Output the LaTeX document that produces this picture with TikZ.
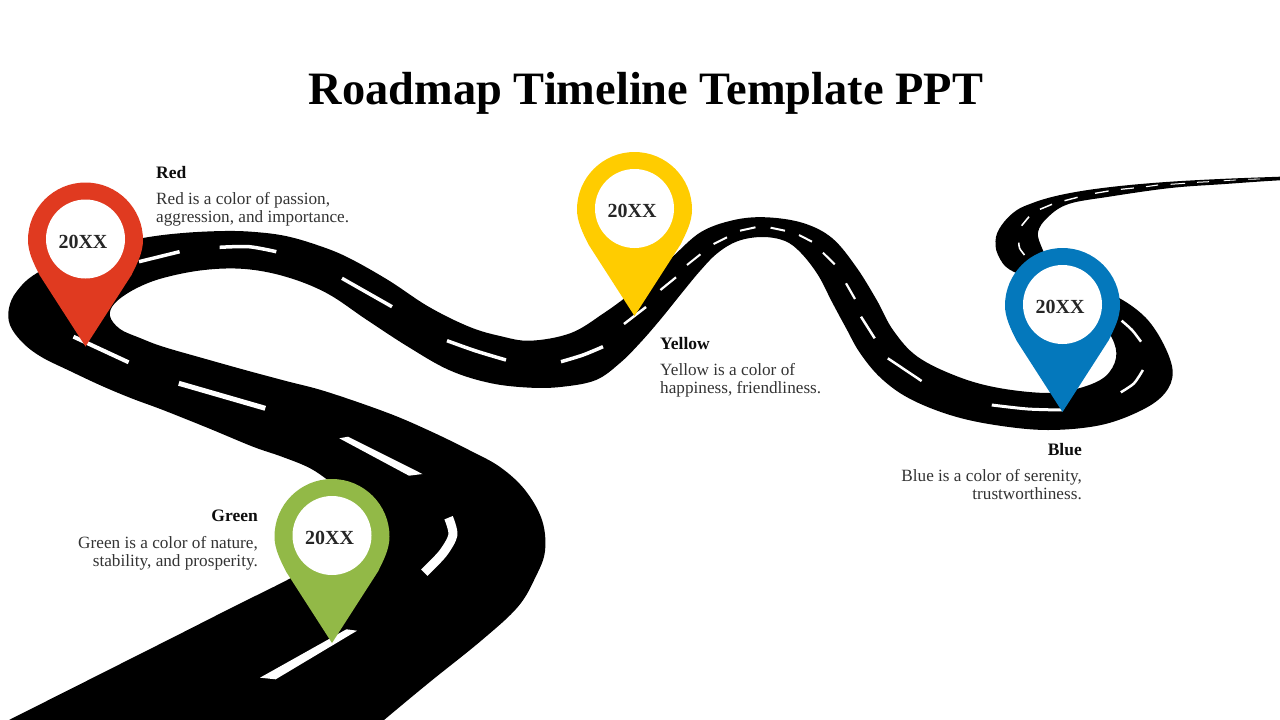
\documentclass[tikz,border=0pt]{standalone}
\usepackage{fontspec}
\setmainfont{Liberation Serif}
\definecolor{pinred}{HTML}{E03A20}
\definecolor{pinyellow}{HTML}{FFCC00}
\definecolor{pinblue}{HTML}{0478BC}
\definecolor{pingreen}{HTML}{92B947}
\newcommand{\bodyf}{\fontsize{17.2}{18}\selectfont}
\tikzset{
  mappin/.pic={
    \fill (0,106.5) -- (-46,35) .. controls (-52,23) and (-57.5,12) .. (-57.5,0)
      arc (180:360:57.5) .. controls (57.5,12) and (52,23) .. (46,35) -- cycle;
    \fill[white] (0,-1) circle (39.5);
  },
  pintext/.style={font=\fontsize{20}{22}\selectfont\bfseries, text=black!85, inner sep=0},
  headlabel/.style={font=\fontsize{17.5}{18}\selectfont\bfseries, text=black!95, inner sep=0},
  bodyleft/.style={font=\bodyf, text=black!80, inner sep=0, anchor=north west, align=left},
  bodyright/.style={font=\bodyf, text=black!80, inner sep=0, anchor=north east, align=right},
  lane/.style={draw=white, line cap=butt, line join=round, line width=#1},
  lane/.default=3
}
\begin{document}
\begin{tikzpicture}[x=1pt,y=-1pt]
\useasboundingbox (0,0) rectangle (1280,720);
\clip (0,0) rectangle (1280,720);
% road
\fill[black] plot[smooth cycle, tension=0.6] coordinates {
 (1330,175) (1280,176.7) (1220,179) (1170.6,181.7) (1129.8,185) (1095,189) (1068.6,193.3) (1048,198) (1031.8,203.3) (1017,210) (1004,222) (996,237) (998,255) (1013.5,271.7) (1060,285) (1095,290) (1119.6,298.3) (1146,318) (1164,345) (1172.7,372) (1165,393) (1142,410) (1101,425) (1048,430) (995,425) (950,415) (909,398.3) (880.8,378) (860,353) (846,328) (832,302) (818,275) (801,253) (785,241) (762.4,237) (738,241) (717.6,253) (700,271) (681,294) (660,320) (640,343) (620,363) (596,380) (563,386.7) (530.6,387.7) (490,383) (449,370) (408,346.7) (367,320) (326.5,293) (285.7,276.7) (245,269) (204,270) (163,278) (135,289) (115,303) (110,316) (120,329) (140,338) (163,346.7) (204,358.5) (245,370) (286,381) (326.5,391.7) (388,413) (430,431) (469,450) (500,467) (525,490) (542,520) (545,551) (535.7,576.7) (518,606.7) (482,640) (428.6,683) (384,720) (340,757) (250,770) (100,775) (-60,755) (9,720) (71,688.8) (125,661.6) (178.6,634.6) (235,606) (291,578) (330,555) (350,525) (345,495) (325,478) (307,466.7) (280,456) (253,446.7) (208,428) (163,410) (132,398.5) (102,386) (70,371) (41,356.7) (22,342) (10,325) (9,308) (17,291) (37,273) (85,250) (143,238) (183,233) (224.5,231) (255,232) (285.7,236) (317,245) (347,257) (388,280) (428.6,306.7) (469,326.7) (500,336) (530.6,340.7) (571,333) (604,313) (630,294) (650,277) (672.6,256.7) (701,232) (734,220) (766.5,217.3) (803,223) (832,238) (856,266.7) (876.7,300) (893,330) (917.5,356.7) (958,376.7) (999,388) (1048,393) (1080,388) (1105,376.7) (1116,358) (1112,338) (1095,315) (1070,285) (1050,262) (1042,248) (1038,232) (1048,217) (1068.6,204) (1109,196.7) (1170.6,188) (1225,184) (1280,180.3) (1330,178.5)
};
% lane markings
\draw[lane=3.5] (139,261.7) -- (179.6,251.7);
\draw[lane=3.5] plot[smooth] coordinates {(219.6,247.3) (249,246.7) (276.3,251.7)};
\draw[lane=3.5] (342,278.3) -- (392,306.7);
\draw[lane=3.5] plot[smooth] coordinates {(447,340.7) (476,351) (506,360)};
\draw[lane=3.5] plot[smooth] coordinates {(561,361.7) (583,355) (603,346.7)};
\draw[lane=2.5] (624,324) -- (646,307);
\draw[lane=2.2] (660.4,290) -- (676,277.3);
\draw[lane=2] (687,265) -- (700.4,254.3);
\draw[lane=2] (713.5,244) -- (727,237.3);
\draw[lane=2] (740,230.7) -- (755.5,227.3);
\draw[lane=2] (770.6,227.7) -- (785,230.7);
\draw[lane=2] (799,235) -- (812,241.7);
\draw[lane=2] (823,252.7) -- (834.7,264.3);
\draw[lane=2.2] (846,283.3) -- (855,299);
\draw[lane=2.5] (861,316.7) -- (874.7,338.3);
\draw[lane=2.5] (887.8,358.3) -- (921.6,381);
\draw[lane=3] plot[smooth] coordinates {(991.8,405) (1027.8,409) (1062.4,410)};
\draw[lane=2.5] plot[smooth] coordinates {(1120.8,392.3) (1134,383.3) (1142.9,370)};
\draw[lane=2.5] plot[smooth] coordinates {(1121.6,320.7) (1132,330) (1141,341.7)};
\draw[lane=1.6] plot[smooth] coordinates {(1018.8,242.7) (1019.6,248.3) (1024.5,255)};
\draw[lane=1.6] (1021.6,225.7) -- (1029,216.7);
\draw[lane=1.5] (1040,209.3) -- (1052,204.3);
\draw[lane=1.4] (1064.5,200.7) -- (1077.6,197.3);
\draw[lane=1.3] (1095,193.3) -- (1108.6,191);
\draw[lane=1.2] (1120.8,189.3) -- (1133.9,188);
\draw[lane=1.1] (1146,186.7) -- (1158,185);
\draw[lane=1] (1170.6,184.3) -- (1185,183.3);
\draw[lane=1] (1197,182.3) -- (1209,181.7);
\draw[lane=.8] (1223.7,180.7) -- (1236,180);
\draw[lane=.8] (1248,179.3) -- (1260,179);
\draw[lane=4] (73.5,336.7) -- (128.6,362.3);
\draw[lane=5] (178.8,383.3) -- (265.3,408.3);
\fill[white] (339.3,438.3) -- (348,436.7) -- (422.5,474) -- (409,475.7) -- cycle;
\draw[lane=9] plot[smooth] coordinates {(448.6,517.7) (452.9,535) (442.9,553.3) (424.3,572.7)};
\fill[white] (346.4,629.3) -- (357,630.7) -- (275.7,679.3) -- (260,677.7) -- cycle;
% pins
\pic[fill=pinred] at (85.5,240) {mappin};
\pic[fill=pinyellow] at (634.5,209.5) {mappin};
\pic[fill=pinblue] at (1062.5,305.5) {mappin};
\pic[fill=pingreen] at (332,536.5) {mappin};
\node[pintext] (tred) at (83,241.5) {20XX};
\node[pintext] (tyellow) at (632,210.5) {20XX};
\node[pintext] (tblue) at (1060,306.5) {20XX};
\node[pintext] (tgreen) at (329.5,537.5) {20XX};
% title
\node[font=\fontsize{46.4}{50}\selectfont\bfseries, text=black, inner sep=0, anchor=base] (title) at (646,104) {Roadmap Timeline Template PPT};
% labels
\node[headlabel, anchor=base west] (lred) at (156,178.3) {Red};
\node[bodyleft] (bred) at (156,191.7) {\strut Red is a color of passion,\\aggression, and importance.};
\node[headlabel, anchor=base west] (lyellow) at (660,349) {Yellow};
\node[bodyleft] (byellow) at (660,362.4) {\strut Yellow is a color of\\happiness, friendliness.};
\node[headlabel, anchor=base east] (lblue) at (1082,455) {Blue};
\node[bodyright] (bblue) at (1082,468.4) {\strut Blue is a color of serenity,\\trustworthiness.};
\node[headlabel, anchor=base east] (lgreen) at (258,521.7) {Green};
\node[bodyright] (bgreen) at (258,535.7) {\strut Green is a color of nature,\\stability, and prosperity.};
\end{tikzpicture}
\end{document}
